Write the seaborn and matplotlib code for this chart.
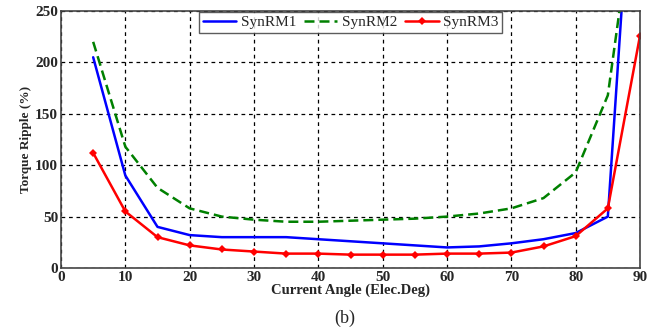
import numpy as np
import pandas as pd
import matplotlib
matplotlib.use('Agg')
import matplotlib.pyplot as plt
import seaborn as sns

# current angle (elec. deg)
angle = [5, 10, 15, 20, 25, 30, 35, 40, 45, 50, 55, 60, 65, 70, 75, 80, 85, 90]
# torque ripple (%)
synrm1 = [205, 90, 40, 32, 30, 30, 30, 28, 26, 24, 22, 20, 21, 24, 28, 34, 50, 520]
synrm2 = [220, 118, 78, 58, 50, 47, 45, 45, 46, 47, 48, 50, 53, 58, 68, 93, 168, 395]
synrm3 = [112, 55, 30, 22, 18, 16, 14, 14, 13, 13, 13, 14, 14, 15, 21, 31, 58, 226]

xticks = [0, 10, 20, 30, 40, 50, 60, 70, 80, 90]
yticks = [0, 50, 100, 150, 200, 250]

df = pd.DataFrame({'angle': angle, 'SynRM1': synrm1, 'SynRM2': synrm2, 'SynRM3': synrm3})

sns.set_style('white')
plt.rcParams['font.family'] = ['Liberation Serif', 'DejaVu Serif']

fig = plt.figure(figsize=(6.58, 3.35), dpi=100)
ax = fig.add_axes([61 / 658, 1 - 268 / 335, (640 - 61) / 658, (268 - 11) / 335])

sns.lineplot(data=df, x='angle', y='SynRM1', ax=ax, color='#0000ff', lw=1.8, label='SynRM1')
sns.lineplot(data=df, x='angle', y='SynRM2', ax=ax, color='#008000', lw=1.8, label='SynRM2',
             dashes=False, linestyle=(0, (4, 2)))
sns.lineplot(data=df, x='angle', y='SynRM3', ax=ax, color='#ff0000', lw=1.8, label='SynRM3',
             marker='D', markersize=4, markeredgewidth=0)

ax.set_xlim(0, 90)
ax.set_ylim(0, 250)
ax.set_xticks(xticks)
ax.set_yticks(yticks)
ax.grid(True, color='black', linestyle=(0, (3, 3)), lw=0.9)
ax.tick_params(direction='in', length=3, labelsize=11, pad=2)
for lab in ax.get_xticklabels() + ax.get_yticklabels():
    lab.set_fontweight('bold')
for s in ax.spines.values():
    s.set_color('#444444')
    s.set_linewidth(1.2)

ax.set_xlabel('Current Angle (Elec.Deg)', fontsize=10.5, fontweight='bold', labelpad=0)
ax.set_ylabel('Torque Ripple (%)', fontsize=9.5, fontweight='bold', labelpad=2)

leg = ax.legend(loc='upper center', ncol=3, fontsize=11, frameon=True, fancybox=False,
                borderpad=0.25, handlelength=2.2, handletextpad=0.3, columnspacing=0.5,
                borderaxespad=0.05, edgecolor='#333333')
leg.get_frame().set_linewidth(1.0)

fig.text(345 / 658, 1 - 318 / 335, '(b)', ha='center', va='center', fontsize=13)

fig.savefig('out.png', dpi=100)
